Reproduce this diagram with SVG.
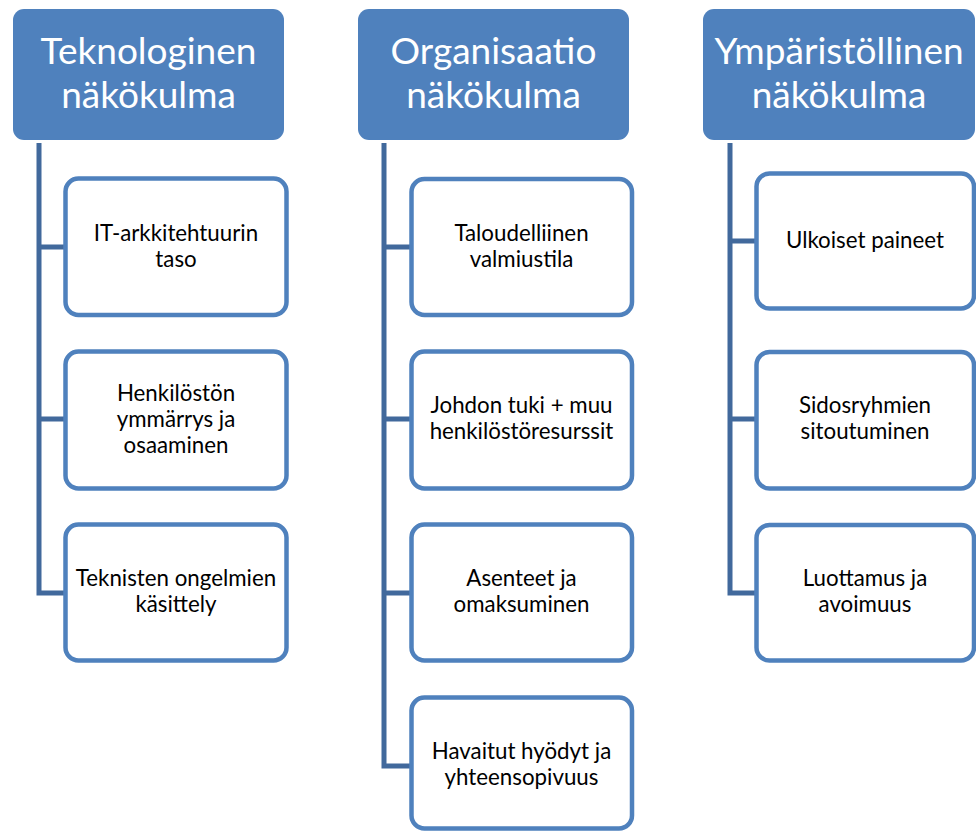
<svg xmlns="http://www.w3.org/2000/svg" width="976" height="832" viewBox="0 0 976 832">
  <style>
    .head rect { fill: #4f81bd; }
    .head text { fill: #ffffff; font-family: Lato, "Liberation Sans", sans-serif; font-size: 37px; text-anchor: middle; }
    .item rect { fill: #ffffff; stroke: #4f81bd; stroke-width: 4.5; }
    .item text { fill: #000000; font-family: Lato, "Liberation Sans", sans-serif; font-size: 22.3px; text-anchor: middle; }
    #connectors path { fill: none; stroke: #41699c; stroke-width: 5; stroke-linejoin: miter; stroke-linecap: butt; }
  </style>
  <rect width="976" height="832" fill="#ffffff"/>

  <!-- connectors: one trunk per column with a branch to each item -->
  <g id="connectors">
    <path d="M39 143 V593 H64 M39 247 H64 M39 419 H64"/>
    <path d="M384 143 V766 H410 M384 247 H410 M384 419 H410 M384 593 H410"/>
    <path d="M730 143 V593 H755 M730 241 H755 M730 419 H755"/>
  </g>

  <!-- column 1 -->
  <g id="tekno" class="head">
    <rect x="13" y="9" width="271" height="131" rx="11"/>
    <text x="148.5" y="64">Teknologinen</text>
    <text x="148.5" y="108">näkökulma</text>
  </g>
  <g id="tekno-1" class="item">
    <rect x="65.5" y="178.5" width="221" height="136.5" rx="13"/>
    <text x="176" y="241">IT-arkkitehtuurin</text>
    <text x="176" y="267">taso</text>
  </g>
  <g id="tekno-2" class="item">
    <rect x="65.5" y="351.5" width="221" height="137" rx="13"/>
    <text x="176" y="401">Henkilöstön</text>
    <text x="176" y="427">ymmärrys ja</text>
    <text x="176" y="453">osaaminen</text>
  </g>
  <g id="tekno-3" class="item">
    <rect x="65.5" y="524.5" width="221" height="136" rx="13"/>
    <text x="176" y="586">Teknisten ongelmien</text>
    <text x="176" y="612">käsittely</text>
  </g>

  <!-- column 2 -->
  <g id="org" class="head">
    <rect x="358" y="9" width="271" height="131" rx="11"/>
    <text x="493.5" y="64">Organisaatio</text>
    <text x="493.5" y="108">näkökulma</text>
  </g>
  <g id="org-1" class="item">
    <rect x="411.5" y="179" width="220.5" height="136" rx="13"/>
    <text x="521.5" y="241">Taloudelliinen</text>
    <text x="521.5" y="267">valmiustila</text>
  </g>
  <g id="org-2" class="item">
    <rect x="411.5" y="351.5" width="220.5" height="137" rx="13"/>
    <text x="521.5" y="413">Johdon tuki + muu</text>
    <text x="521.5" y="439">henkilöstöresurssit</text>
  </g>
  <g id="org-3" class="item">
    <rect x="411.5" y="524.5" width="220.5" height="136" rx="13"/>
    <text x="521.5" y="586">Asenteet ja</text>
    <text x="521.5" y="612">omaksuminen</text>
  </g>
  <g id="org-4" class="item">
    <rect x="411.5" y="697.5" width="220.5" height="131" rx="13"/>
    <text x="521.5" y="759">Havaitut hyödyt ja</text>
    <text x="521.5" y="785">yhteensopivuus</text>
  </g>

  <!-- column 3 -->
  <g id="ymp" class="head">
    <rect x="703" y="9" width="272" height="131" rx="11"/>
    <text x="839" y="64">Ympäristöllinen</text>
    <text x="839" y="108">näkökulma</text>
  </g>
  <g id="ymp-1" class="item">
    <rect x="756.5" y="173.5" width="217.5" height="135" rx="13"/>
    <text x="865" y="248">Ulkoiset paineet</text>
  </g>
  <g id="ymp-2" class="item">
    <rect x="756.5" y="352" width="217.5" height="136.5" rx="13"/>
    <text x="865" y="413">Sidosryhmien</text>
    <text x="865" y="439">sitoutuminen</text>
  </g>
  <g id="ymp-3" class="item">
    <rect x="756.5" y="525" width="217.5" height="135.5" rx="13"/>
    <text x="865" y="586">Luottamus ja</text>
    <text x="865" y="612">avoimuus</text>
  </g>
</svg>
